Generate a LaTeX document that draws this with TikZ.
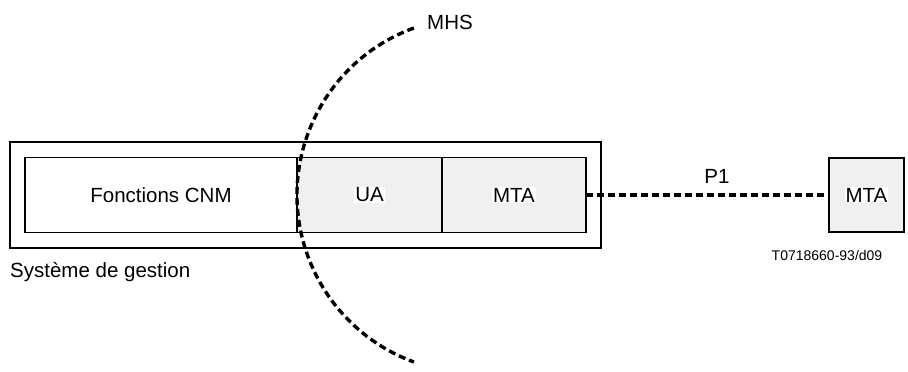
\documentclass[tikz,border=0pt]{standalone}
\usepackage{fontspec}
\setmainfont{Liberation Sans}
\definecolor{boxgray}{RGB}{240,240,240}
\begin{document}
\begin{tikzpicture}[x=1pt,y=1pt,
  lbl/.style={font=\fontsize{20.5}{24}\selectfont, inner sep=0pt},
  small/.style={font=\fontsize{14}{16}\selectfont, inner sep=0pt},
  frame/.style={draw, line width=1.1pt, inner sep=0pt, outer sep=0pt},
  part/.style={frame, minimum height=75pt},
  shaded/.style={part, fill=boxgray},
  tag/.style={lbl, fill=white, inner sep=1pt},
  fatdash/.style={line width=3.4pt, dash pattern=on 7pt off 4pt}
]
\useasboundingbox (0,0) rectangle (908,372);

% management system frame and its parts
\node[frame, minimum width=591pt, minimum height=106pt] (sys) at (305.5,177) {};
\node[part, minimum width=272pt] (cnm) at (161,177) {};
\node[shaded, minimum width=145pt] (ua) at (369.5,177) {};
\node[shaded, minimum width=144pt] (mta) at (514,177) {};
\node[lbl] (cnmt) at (cnm) {Fonctions CNM};
\node[tag] (uat) at (ua) {UA};
\node[tag] (mtat) at (mta) {MTA};

% remote MTA
\node[shaded, minimum width=75pt, minimum height=74pt] (rmta) at (866.5,177) {};
\node[tag] (rmtat) at (rmta) {MTA};

% P1 link
\draw[fatdash] (mta.east) -- (rmta.west);
\node[lbl] (p1) at (717,196) {P1};

% MHS boundary
\draw[fatdash] (474.7,177) ++(110:177.7) arc[start angle=110, end angle=250, radius=177.7];
\node[lbl] (mhs) at (450,350) {MHS};

% captions
\node[lbl, anchor=west] (sg) at (10,100) {Système de gestion};
\node[small] (ref) at (827,117) {T0718660-93/d09};
\end{tikzpicture}
\end{document}
